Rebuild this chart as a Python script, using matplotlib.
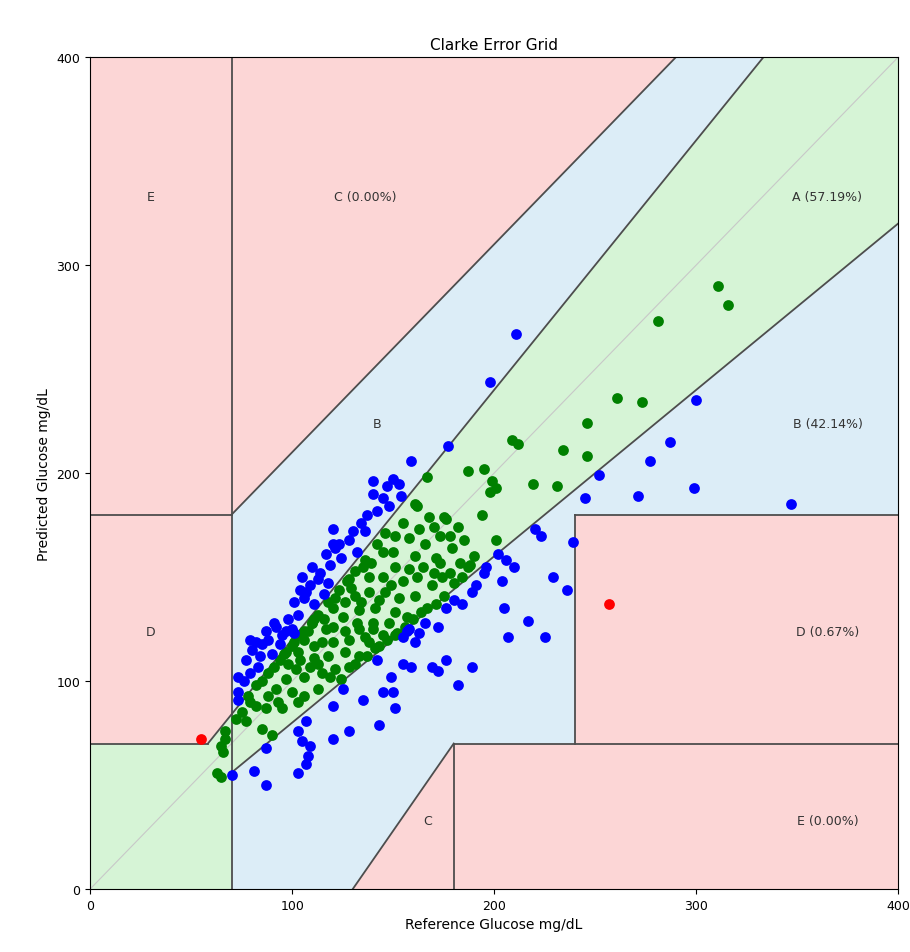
import matplotlib
matplotlib.use('Agg')
import matplotlib.pyplot as plt

# reference / predicted glucose pairs, grouped by zone
zone_a_ref = [311, 316, 281, 261, 273, 246, 234, 246, 209, 212, 195, 199, 201, 198, 219, 231, 194, 201, 188,
              167, 187, 162, 168, 175, 170, 182, 158, 173, 179, 161, 145, 139, 151, 173, 183, 161, 176,
              171, 178, 187, 150, 135, 128, 138, 145, 155, 162, 169, 161, 153, 146, 138, 131, 126, 120,
              125, 133, 141, 151, 157, 140, 133, 126, 120, 111, 108, 115, 145, 151, 138,
              110, 117, 132, 140, 148, 106, 111, 120, 128, 136, 143, 103, 111, 118, 126, 133, 102, 106,
              115, 121, 128, 97, 92, 100, 106, 113, 88, 103, 93, 87, 95, 82, 78, 82, 75, 72, 85, 90,
              67, 67, 65, 63, 65, 77, 66, 79,
              98, 104, 109, 113, 119, 124, 131, 137, 141, 147, 152, 156, 160, 164, 167, 171, 175, 180,
              184, 190, 185, 178, 166, 163, 155, 151, 146, 142, 136, 131, 127, 123, 118, 113, 110, 106,
              101, 97, 94, 91, 88, 85, 96, 100, 104, 116, 121, 129, 134, 143, 149, 158, 165, 170, 174]
zone_a_pred = [290, 281, 273, 236, 234, 224, 211, 208, 216, 214, 202, 196, 193, 191, 195, 194, 180, 168, 156,
               198, 201, 184, 179, 179, 174, 174, 169, 170, 164, 160, 162, 157, 155, 157, 157, 185, 178,
               159, 152, 155, 162, 155, 149, 150, 150, 148, 150, 146, 141, 140, 143, 143, 141, 138, 135,
               131, 134, 135, 133, 131, 128, 125, 124, 126, 130, 124, 119, 122, 122, 119,
               128, 125, 128, 125, 128, 120, 117, 119, 120, 121, 117, 114, 111, 112, 114, 112, 106, 102,
               104, 106, 107, 101, 96, 95, 93, 96, 93, 90, 90, 87, 87, 98, 93, 88, 85, 82, 77, 74,
               76, 72, 69, 56, 54, 81, 66, 90,
               108, 110, 107, 108, 102, 101, 108, 112, 116, 120, 123, 126, 130, 133, 135, 137, 141, 147,
               150, 160, 168, 170, 166, 173, 176, 170, 171, 166, 158, 153, 148, 144, 138, 132, 128, 124,
               119, 114, 110, 107, 104, 100, 113, 117, 122, 130, 140, 145, 138, 139, 146, 154, 155, 152,
               150]

zone_b_ref = [211, 198, 177, 159, 140, 150, 140, 147, 154, 148, 134, 136, 132, 120, 121, 124, 120, 117,
              110, 105, 113, 118, 101, 107, 111, 116, 92, 87, 82, 95, 100, 104, 91, 97, 79, 85, 90, 83,
              79, 73, 73, 73, 80, 101,
              189, 184, 176, 172, 157, 161, 155, 207, 217, 142, 155, 159, 169, 172, 176, 189, 182, 149,
              145, 150, 125, 135, 120, 151, 143, 128, 120, 107, 103, 105, 109, 108, 107, 87, 81, 103,
              87, 70, 252, 245, 220, 223, 239, 202, 206, 210, 196, 195, 191, 204, 229, 236, 205, 225,
              300, 287, 277, 271, 299, 347,
              88, 84, 77, 76, 94, 98, 103, 106, 109, 114, 119, 123, 128, 130, 142, 145, 153, 137, 158,
              163, 166, 180]
zone_b_pred = [267, 244, 213, 206, 196, 197, 190, 194, 189, 184, 176, 172, 162, 173, 164, 159, 166, 161,
               155, 150, 149, 147, 138, 143, 137, 142, 126, 124, 119, 122, 125, 144, 128, 124, 120, 118,
               113, 107, 104, 102, 95, 91, 115, 123,
               143, 137, 135, 126, 124, 119, 121, 121, 129, 110, 108, 107, 107, 105, 110, 107, 98, 102,
               95, 95, 96, 91, 88, 87, 79, 76, 72, 81, 76, 71, 69, 64, 60, 68, 57, 56,
               50, 55, 199, 188, 173, 170, 167, 161, 158, 155, 155, 152, 146, 148, 150, 144, 135, 121,
               235, 215, 206, 189, 193, 185,
               120, 112, 110, 100, 118, 130, 132, 140, 146, 152, 156, 166, 168, 172, 182, 188, 195, 180,
               125, 123, 128, 139]

zone_d_ref = [55, 257]
zone_d_pred = [72, 137]

pink = '#fcd6d6'
blue = '#dcedf7'
green = '#d6f4d6'
edge = '#4d4d4d'

# zone polygons (Clarke boundaries)
regions = [
    ([0, 70, 70, 400, 400, 400 / 1.2, 70 / 1.2, 0], [0, 0, 56, 320, 400, 400, 70, 70], green),
    ([70, 70, 290, 400 / 1.2], [84, 180, 400, 400], blue),
    ([70, 130, 180, 240, 240, 400, 400, 70], [0, 0, 70, 70, 180, 180, 320, 56], blue),
    ([70, 70, 290], [180, 400, 400], pink),
    ([130, 180, 180], [0, 0, 70], pink),
    ([0, 70 / 1.2, 70, 70, 0], [70, 70, 84, 180, 180], pink),
    ([0, 70, 70, 0], [180, 180, 400, 400], pink),
    ([240, 400, 400, 240], [70, 70, 180, 180], pink),
    ([180, 400, 400, 180], [0, 0, 70, 70], pink),
]

boundaries = [
    ([70, 70], [0, 400]),
    ([0, 70], [180, 180]),
    ([240, 400], [180, 180]),
    ([0, 70 / 1.2], [70, 70]),
    ([180, 400], [70, 70]),
    ([70 / 1.2, 400 / 1.2], [70, 400]),
    ([70, 400], [56, 320]),
    ([70, 290], [180, 400]),
    ([130, 180], [0, 70]),
    ([180, 180], [0, 70]),
    ([240, 240], [70, 180]),
]

fig = plt.figure(figsize=(9.1, 9.53), dpi=100)
ax = fig.add_axes([0.099, 0.066, 0.888, 0.873])

for xs, ys, c in regions:
    ax.fill(xs, ys, color=c, lw=0, zorder=0)
ax.plot([0, 400], [0, 400], color='#c8c8c8', lw=0.8, zorder=1)
for xs, ys in boundaries:
    ax.plot(xs, ys, color=edge, lw=1.3, zorder=2)

ax.scatter(zone_a_ref, zone_a_pred, s=60, color='green', lw=0, zorder=3)
ax.scatter(zone_b_ref, zone_b_pred, s=60, color='blue', lw=0, zorder=3)
ax.scatter(zone_d_ref, zone_d_pred, s=60, color='red', lw=0, zorder=3)

n = len(zone_a_ref) + len(zone_b_ref) + len(zone_d_ref)
pa = 100 * len(zone_a_ref) / n
pb = 100 * len(zone_b_ref) / n
pd = 100 * len(zone_d_ref) / n

labels = [
    (30, 333, 'E'), (136, 333, 'C (0.00%)'), (365, 333, f'A ({pa:.2f}%)'),
    (142, 224, 'B'), (365, 224, f'B ({pb:.2f}%)'),
    (30, 124, 'D'), (365, 124, f'D ({pd:.2f}%)'),
    (167, 33, 'C'), (365, 33, 'E (0.00%)'),
]
for x, y, t in labels:
    ax.text(x, y, t, ha='center', va='center', fontsize=9, color='#333333', zorder=4)

ax.set_xlim(0, 400)
ax.set_ylim(0, 400)
ax.set_xticks([0, 100, 200, 300, 400])
ax.set_yticks([0, 100, 200, 300, 400])
ax.tick_params(labelsize=9)
ax.set_xlabel('Reference Glucose mg/dL', fontsize=10)
ax.set_ylabel('Predicted Glucose mg/dL', fontsize=10)
ax.set_title('Clarke Error Grid', fontsize=11)

fig.savefig('out.png', dpi=100)
